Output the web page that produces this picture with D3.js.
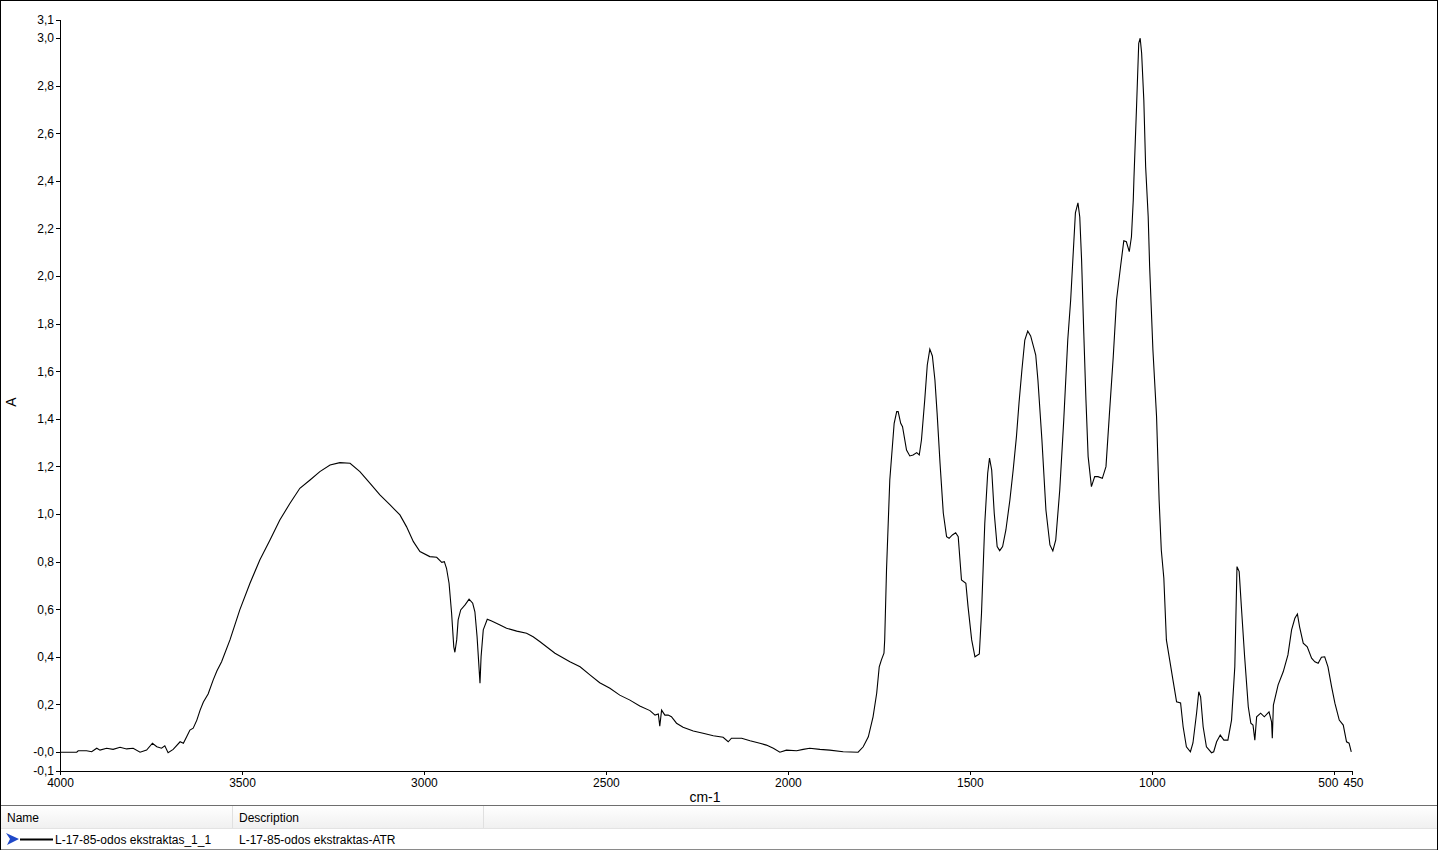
<!DOCTYPE html>
<html>
<head>
<meta charset="utf-8">
<script src="https://cdn.jsdelivr.net/npm/d3@7"></script>
<style>
  html, body { margin: 0; padding: 0; background: #fff; }
  svg { display: block; font-family: "Liberation Sans", Arial, sans-serif; }
</style>
</head>
<body>
<svg id="chart" width="1438" height="850"></svg>
<script>
// ---- Data ----
const wavenumber = [4000,3954,3950,3927,3913,3899,3890,3872,3854,3835,3817,3799,3780,3762,3746,3734,3721,3712,3703,3689,3670,3661,3652,3643,3634,3624,3615,3606,3593,3579,3569,3556,3533,3506,3478,3451,3423,3396,3368,3341,3313,3286,3258,3231,3203,3176,3148,3121,3093,3066,3048,3029,3011,2984,2965,2951,2944,2938,2931,2924,2918,2915,2910,2906,2899,2887,2876,2866,2860,2854,2850,2846,2843,2837,2826,2814,2791,2773,2745,2718,2700,2681,2640,2599,2571,2544,2517,2489,2462,2434,2407,2379,2365,2356,2352,2347,2338,2329,2320,2306,2288,2260,2233,2205,2178,2164,2155,2127,2104,2077,2059,2040,2022,2004,1976,1958,1940,1912,1885,1848,1807,1793,1779,1766,1756,1749,1743,1736,1734,1729,1720,1708,1701,1697,1690,1685,1674,1665,1656,1646,1639,1633,1624,1617,1610,1603,1596,1590,1582,1573,1564,1557,1548,1539,1532,1523,1511,1505,1495,1486,1474,1468,1459,1451,1446,1440,1433,1425,1418,1410,1401,1390,1381,1372,1365,1357,1349,1341,1333,1324,1319,1313,1302,1291,1280,1272,1264,1253,1242,1231,1223,1216,1210,1203,1198,1193,1187,1181,1175,1166,1157,1148,1136,1126,1117,1106,1097,1086,1077,1070,1062,1056,1051,1049,1042,1036,1032,1028,1022,1017,1010,1006,997,987,980,974,967,960,951,942,932,921,914,905,894,887,877,871,866,859,850,836,830,822,812,802,791,781,772,766,760,754,745,735,728,722,717,712,701,691,678,671,669,666,653,639,626,616,607,600,594,584,573,561,552,543,534,525,516,506,497,485,474,465,458,452];
const absorbance = [-0.001,-0.001,0.005,0.005,0.001,0.016,0.008,0.016,0.011,0.020,0.013,0.016,-0.001,0.008,0.037,0.022,0.016,0.026,-0.003,0.011,0.043,0.037,0.064,0.092,0.100,0.134,0.176,0.210,0.244,0.303,0.340,0.379,0.471,0.597,0.709,0.807,0.891,0.975,1.045,1.108,1.143,1.178,1.206,1.216,1.213,1.178,1.129,1.080,1.038,0.996,0.947,0.884,0.842,0.821,0.818,0.797,0.800,0.772,0.709,0.583,0.442,0.419,0.471,0.555,0.597,0.618,0.642,0.625,0.589,0.484,0.387,0.289,0.400,0.513,0.558,0.550,0.534,0.520,0.508,0.499,0.484,0.463,0.415,0.379,0.358,0.324,0.291,0.268,0.239,0.218,0.193,0.174,0.155,0.160,0.109,0.176,0.155,0.155,0.148,0.121,0.104,0.088,0.079,0.068,0.062,0.043,0.058,0.058,0.047,0.037,0.029,0.016,-0.001,0.008,0.005,0.011,0.016,0.011,0.008,0.001,-0.001,0.022,0.064,0.148,0.247,0.358,0.387,0.415,0.471,0.765,1.143,1.381,1.430,1.430,1.381,1.367,1.269,1.244,1.248,1.258,1.248,1.311,1.479,1.626,1.693,1.664,1.563,1.424,1.214,1.004,0.905,0.898,0.912,0.921,0.905,0.723,0.709,0.611,0.471,0.400,0.412,0.583,0.961,1.171,1.235,1.185,1.003,0.863,0.846,0.863,0.933,1.059,1.185,1.325,1.465,1.605,1.731,1.769,1.748,1.697,1.668,1.563,1.311,1.017,0.870,0.845,0.891,1.101,1.395,1.731,1.899,2.097,2.265,2.307,2.248,2.067,1.761,1.479,1.241,1.115,1.157,1.157,1.150,1.199,1.409,1.661,1.899,2.039,2.148,2.144,2.102,2.165,2.319,2.417,2.711,2.978,2.999,2.936,2.739,2.459,2.249,2.039,1.689,1.409,1.059,0.849,0.730,0.471,0.387,0.303,0.211,0.206,0.106,0.022,0.001,0.038,0.164,0.253,0.232,0.106,0.022,-0.003,0.001,0.043,0.071,0.050,0.050,0.134,0.358,0.779,0.758,0.611,0.400,0.190,0.121,0.113,0.050,0.148,0.163,0.148,0.169,0.127,0.058,0.197,0.282,0.337,0.408,0.513,0.562,0.580,0.526,0.457,0.442,0.394,0.379,0.373,0.398,0.400,0.358,0.274,0.205,0.134,0.113,0.043,0.037,0.001];

const xTickValues = [4000, 3500, 3000, 2500, 2000, 1500, 1000, 500, 450];
const xTickLabels = ["4000", "3500", "3000", "2500", "2000", "1500", "1000", "500", "450"];
const yTickValues = [-0.0798, 0, 0.2, 0.4, 0.6, 0.8, 1.0, 1.2, 1.4, 1.6, 1.8, 2.0, 2.2, 2.4, 2.6, 2.8, 3.0, 3.0756];
const yTickLabels = ["-0,1", "-0,0", "0,2", "0,4", "0,6", "0,8", "1,0", "1,2", "1,4", "1,6", "1,8", "2,0", "2,2", "2,4", "2,6", "2,8", "3,0", "3,1"];

const xTitle = "cm-1";
const yTitle = "A";
const legendHeaders = ["Name", "Description"];
const seriesName = "L-17-85-odos ekstraktas_1_1";
const seriesDescription = "L-17-85-odos ekstraktas-ATR";

// ---- Drawing ----
const svg = d3.select("#chart");
const W = 1438, H = 850;

const x = d3.scaleLinear().domain([4000, 450]).range([60, 1352]);
const y = d3.scaleLinear().domain([-0.0798, 3.0756]).range([771, 20]);

// outer frame of plot panel (top, left, right in black)
svg.append("path").attr("d", `M0.5,805V0.5H${W - 0.5}V805`)
  .attr("fill", "none").attr("stroke", "#000").attr("shape-rendering", "crispEdges");

// Y axis
const yAxis = d3.axisLeft(y).tickValues(yTickValues).tickSize(4).tickPadding(2)
  .tickFormat((d, i) => yTickLabels[i]);
const gy = svg.append("g").attr("transform", "translate(60,0)").call(yAxis);
gy.select(".domain").attr("d", "M-4,20.5H0.5V771").attr("shape-rendering", "crispEdges");
gy.selectAll(".tick line").attr("shape-rendering", "crispEdges");
gy.selectAll("text").attr("font-size", 12).attr("fill", "#000")
  .attr("font-family", "'Liberation Sans', Arial, sans-serif");

// X axis
const xAxis = d3.axisBottom(x).tickValues(xTickValues).tickSize(4).tickPadding(3)
  .tickFormat((d, i) => xTickLabels[i]);
const gx = svg.append("g").attr("transform", "translate(0,771)").call(xAxis);
gx.select(".domain").attr("d", "M60,0.5H1352.5").attr("shape-rendering", "crispEdges");
gx.selectAll(".tick line").attr("shape-rendering", "crispEdges");
gx.selectAll("text").attr("font-size", 12).attr("fill", "#000")
  .attr("font-family", "'Liberation Sans', Arial, sans-serif");
// nudge the crowded "500" label left so it does not collide with "450"
gx.selectAll(".tick").filter(d => d === 500).select("text").attr("dx", -6);
gx.selectAll(".tick").filter(d => d === 450).select("text").attr("dx", 1);

// Axis titles
svg.append("text").attr("x", 705).attr("y", 802).attr("text-anchor", "middle")
  .attr("font-size", 14).text(xTitle);
svg.append("text").attr("transform", "translate(16,402) rotate(-90)")
  .attr("text-anchor", "middle").attr("font-size", 14).text(yTitle);

// Spectrum line
const data = wavenumber.map((w, i) => ({ w, a: absorbance[i] }));
svg.append("path").datum(data)
  .attr("fill", "none").attr("stroke", "#000").attr("stroke-width", 1.1)
  .attr("d", d3.line().x(d => x(d.w)).y(d => y(d.a)));

// ---- Legend table ----
const lg = svg.append("g");
const grad = svg.append("defs").append("linearGradient").attr("id", "hdr")
  .attr("x1", 0).attr("y1", 0).attr("x2", 0).attr("y2", 1);
grad.append("stop").attr("offset", "0%").attr("stop-color", "#ffffff");
grad.append("stop").attr("offset", "100%").attr("stop-color", "#f0f0f0");
lg.append("rect").attr("x", 1).attr("y", 806).attr("width", W - 2).attr("height", 22).attr("fill", "url(#hdr)");
lg.append("line").attr("x1", 0).attr("x2", W).attr("y1", 805.5).attr("y2", 805.5).attr("stroke", "#6e6e6e");
lg.append("line").attr("x1", 0).attr("x2", W).attr("y1", 828.5).attr("y2", 828.5).attr("stroke", "#e3e3e3");
lg.append("line").attr("x1", 0).attr("x2", W).attr("y1", 849.5).attr("y2", 849.5).attr("stroke", "#8a8a8a");
lg.append("line").attr("x1", 0.5).attr("x2", 0.5).attr("y1", 805).attr("y2", 850).attr("stroke", "#000");
lg.append("line").attr("x1", W - 0.5).attr("x2", W - 0.5).attr("y1", 805).attr("y2", 850).attr("stroke", "#000");
[232.5, 483.5].forEach(cx => {
  lg.append("line").attr("x1", cx).attr("x2", cx).attr("y1", 806).attr("y2", 828).attr("stroke", "#e0e0e0");
});
lg.append("text").attr("x", 7).attr("y", 822).attr("font-size", 12).text(legendHeaders[0]);
lg.append("text").attr("x", 239).attr("y", 822).attr("font-size", 12).text(legendHeaders[1]);
// arrow icon
lg.append("path").attr("d", "M6,833 L19,839 L7,845 L10,839 Z").attr("fill", "#1f48c8");
lg.append("line").attr("x1", 20).attr("x2", 53).attr("y1", 839.5).attr("y2", 839.5)
  .attr("stroke", "#000").attr("stroke-width", 2);
lg.append("text").attr("x", 55).attr("y", 844).attr("font-size", 12).text(seriesName);
lg.append("text").attr("x", 239).attr("y", 844).attr("font-size", 12).text(seriesDescription);
</script>
</body>
</html>
